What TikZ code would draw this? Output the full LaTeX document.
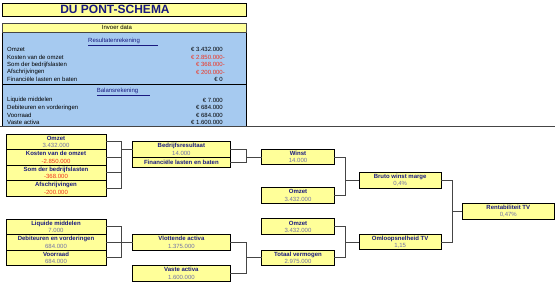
\documentclass[tikz,border=0pt]{standalone}
\usepackage{fontspec}
\setmainfont{Liberation Sans}
\usepackage{xcolor}
\definecolor{Navy}{HTML}{1A1A80}
\definecolor{CellFill}{HTML}{FFFF99}
\definecolor{PanelBlue}{HTML}{A6CAF0}
\definecolor{ValBlue}{HTML}{7272A8}
\definecolor{NegRed}{HTML}{F0321E}
\definecolor{Wire}{HTML}{454545}
\usepackage{tikz}
\usetikzlibrary{positioning}
\tikzset{
  cell/.style={draw=black,fill=CellFill,line width=.9pt,outer sep=0pt,inner sep=0pt,
    minimum height=15.5pt,align=center,text=Navy,font=\fontsize{6}{7.3}\selectfont\bfseries},
  link/.style={draw=Wire,line width=.9pt},
  entry/.style={anchor=west,inner sep=0pt,font=\fontsize{6}{7}\selectfont,text=black},
  amount/.style={anchor=east,inner sep=0pt,font=\fontsize{6}{7}\selectfont,text=black},
  sheet/.style={anchor=west,inner sep=0pt,font=\fontsize{6}{7}\selectfont,text=Navy}
}
\newcommand{\cellval}[1]{{\mdseries\color{ValBlue}#1}}
\newcommand{\cellneg}[1]{{\mdseries\color{NegRed}#1}}
\newcommand{\negamt}[1]{{\color{NegRed}#1\rlap{-}}}

\begin{document}
\begin{tikzpicture}[x=1pt,y=-1pt]
\useasboundingbox[fill=white] (0,0) rectangle (555,283);
% title and input panel
\draw[fill=CellFill,line width=.9pt] (2,3) rectangle (246,16);
\node[inner sep=0pt,text=Navy,font=\fontsize{12}{14}\selectfont\bfseries] (title) at (115,9.7) {DU PONT-SCHEMA};
\draw[fill=PanelBlue,line width=.9pt] (2,32) rectangle (246,126.5);
\draw[fill=CellFill,draw=Wire,line width=.6pt] (2,23) rectangle (246,32);
\node[inner sep=0pt,font=\fontsize{6}{7}\selectfont] (invoer) at (117,27.5) {Invoer data};
\draw[line width=.9pt] (2,84.5) -- (246,84.5);
\draw[draw=Wire,line width=1pt] (0,126.7) -- (555,126.7);

\node[sheet] (resrek) at (88,42) {\underline{Resultatenrekening\hspace*{18pt}}};
\node[entry] (eOmzet) at (7,49.7) {Omzet};
\node[amount] (aOmzet) at (223,49.7) {€ 3.432.000};
\node[entry] (eKosten) at (7,57.2) {Kosten van de omzet};
\node[amount] (aKosten) at (223,57.2) {\negamt{€ 2.850.000}};
\node[entry] (eSom) at (7,64.7) {Som der bedrijfslasten};
\node[amount] (aSom) at (223,64.7) {\negamt{€ 368.000}};
\node[entry] (eAfschr) at (7,72.3) {Afschrijvingen};
\node[amount] (aAfschr) at (223,72.3) {\negamt{€ 200.000}};
\node[entry] (eFin) at (7,79.8) {Financiële lasten en baten};
\node[amount] (aFin) at (223,79.8) {€ 0};

\node[sheet] (balrek) at (96.7,92.3) {\underline{Balansrekening\hspace*{12pt}}};
\node[entry] (eLiq) at (7,100) {Liquide middelen};
\node[amount] (aLiq) at (223,100) {€ 7.000};
\node[entry] (eDeb) at (7,107.5) {Debiteuren en vorderingen};
\node[amount] (aDeb) at (223,107.5) {€ 684.000};
\node[entry] (eVoor) at (7,115) {Voorraad};
\node[amount] (aVoor) at (223,115) {€ 684.000};
\node[entry] (eVaste) at (7,122.3) {Vaste activa};
\node[amount] (aVaste) at (223,122.3) {€ 1.600.000};

% schema
\node[cell,minimum width=100pt] (omzetA) at (56,141.75) {Omzet\\\cellval{3.432.000}};
\node[cell,minimum width=100pt,below=0pt of omzetA] (kosten) {Kosten van de omzet\\\cellneg{-2.850.000}};
\node[cell,minimum width=100pt,below=0pt of kosten] (somlast) {Som der bedrijfslasten\\\cellneg{-368.000}};
\node[cell,minimum width=100pt,below=0pt of somlast] (afschr) {Afschrijvingen\\\cellneg{-200.000}};

\node[cell,minimum width=100pt] (liquide) at (56,226.75) {Liquide middelen\\\cellval{7.000}};
\node[cell,minimum width=100pt,below=0pt of liquide] (debit) {Debiteuren en vorderingen\\\cellval{684.000}};
\node[cell,minimum width=100pt,below=0pt of debit] (voorraad) {Voorraad\\\cellval{684.000}};

\node[cell,minimum width=97.3pt] (bedrijf) at (181.35,149.5) {Bedrijfsresultaat\\\cellval{14.000}};
\node[cell,minimum width=97.3pt,minimum height=10.4pt,below=0pt of bedrijf] (finlast) {Financiële lasten en baten};
\node[cell,minimum width=97.3pt] (vlottend) at (181.35,242.25) {Vlottende activa\\\cellval{1.375.000}};
\node[cell,minimum width=97.3pt] (vaste) at (181.35,273.35) {Vaste activa\\\cellval{1.600.000}};

\node[cell,minimum width=72.6pt] (winst) at (298,157.15) {Winst\\\cellval{14.000}};
\node[cell,minimum width=72.6pt] (omzetB) at (298,195.5) {Omzet\\\cellval{3.432.000}};
\node[cell,minimum width=72.6pt] (omzetC) at (298,226.65) {Omzet\\\cellval{3.432.000}};
\node[cell,minimum width=72.6pt] (totaal) at (298,257.85) {Totaal vermogen\\\cellval{2.975.000}};

\node[cell,minimum width=81.7pt] (bruto) at (400.15,180.5) {Bruto winst marge\\\cellval{0,4\%}};
\node[cell,minimum width=81.7pt] (omloop) at (400.15,242.2) {Omloopsnelheid TV\\\cellval{1,15}};

\node[cell,minimum width=92pt] (rent) at (508.3,211.5) {Rentabiliteit TV\\\cellval{0,47\%}};

% connectors
\coordinate (jA) at (121,0);
\coordinate (jB) at (246,0);
\coordinate (jC) at (345.7,0);
\coordinate (jD) at (452.3,0);

\draw[link] (omzetA.east) -- (omzetA.east -| jA) |- (afschr.east);
\draw[link] (kosten.east) -- (kosten.east -| jA);
\draw[link] (somlast.east) -- (somlast.east -| jA);
\draw[link] (bedrijf.west -| jA) -- (bedrijf.west);

\draw[link] (liquide.east) -- (liquide.east -| jA) |- (voorraad.east);
\draw[link] (debit.east) -- (vlottend.west);

\draw[link] (bedrijf.east) -- (bedrijf.east -| jB) |- (finlast.east);
\draw[link] (winst.west -| jB) -- (winst.west);
\draw[link] (vlottend.east) -- (vlottend.east -| jB) |- (vaste.east);
\draw[link] (totaal.west -| jB) -- (totaal.west);

\draw[link] (winst.east) -- (winst.east -| jC) |- (omzetB.east);
\draw[link] (bruto.west -| jC) -- (bruto.west);
\draw[link] (omzetC.east) -- (omzetC.east -| jC) |- (totaal.east);
\draw[link] (omloop.west -| jC) -- (omloop.west);

\draw[link] (bruto.east) -- (bruto.east -| jD) |- (omloop.east);
\draw[link] (rent.west -| jD) -- (rent.west);
\end{tikzpicture}
\end{document}
